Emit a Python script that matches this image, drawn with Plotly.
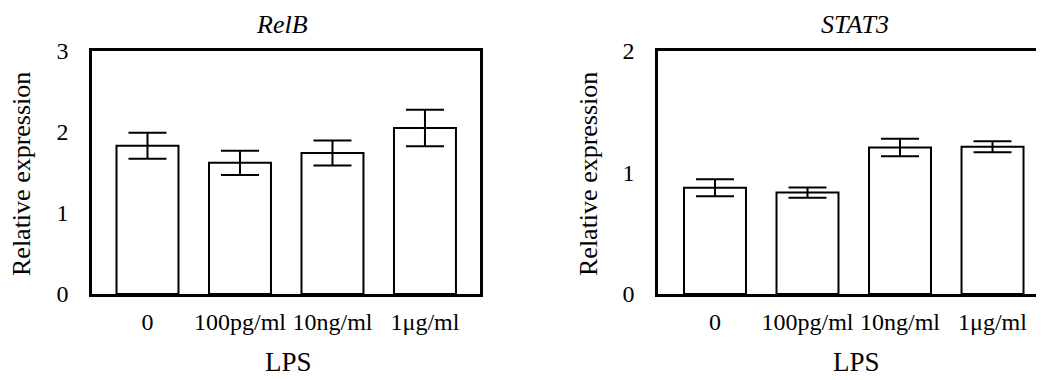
import plotly.graph_objects as go

categories = ["0", "100pg/ml", "10ng/ml", "1μg/ml"]
relb_values = [1.83, 1.62, 1.74, 2.05]
relb_errors = [0.16, 0.15, 0.155, 0.225]
stat3_values = [0.875, 0.835, 1.205, 1.212]
stat3_errors = [0.07, 0.042, 0.072, 0.045]
panel_titles = ["RelB", "STAT3"]
y_ticks_relb = [0, 1, 2, 3]
y_ticks_stat3 = [0, 1, 2]
x_title = "LPS"
y_title = "Relative expression"

FONT = "Liberation Serif"
W, H = 1044, 380
OFF = 8  # page body margin offset


def px_x(p):
    return (p - OFF) / W


def px_y(p):
    return (H - (p - OFF)) / H


def bar(vals, errs, xa, ya):
    return go.Bar(
        x=list(range(len(categories))), y=vals, xaxis=xa, yaxis=ya,
        width=0.67,
        marker=dict(color="white", line=dict(color="black", width=2)),
        error_y=dict(type="data", array=errs, visible=True, color="black",
                     thickness=2, width=19),
        showlegend=False, hoverinfo="skip",
    )


fig = go.Figure()
fig.add_trace(bar(relb_values, relb_errors, "x", "y"))
fig.add_trace(bar(stat3_values, stat3_errors, "x2", "y2"))

ydom = [px_y(294), px_y(51)]
axis_common = dict(showgrid=False, zeroline=False, showline=True,
                   linecolor="black", linewidth=2.6, ticks="", automargin=False,
                   tickfont=dict(family=FONT, size=24, color="black"))

fig.update_layout(
    template="simple_white",
    width=W, height=H,
    margin=dict(l=0, r=0, t=0, b=0, autoexpand=False),
    paper_bgcolor="white", plot_bgcolor="white",
    font=dict(family=FONT, color="black"),
    xaxis=dict(domain=[px_x(92), px_x(480)], range=[-0.6, 3.595],
               tickvals=list(range(len(categories))), ticktext=categories,
               mirror=True, ticklabelstandoff=4, anchor="y", **axis_common),
    yaxis=dict(domain=ydom, range=[0, 3], tickvals=y_ticks_relb,
               mirror=True, ticklabelstandoff=16, anchor="x", **axis_common),
    xaxis2=dict(domain=[px_x(658), 1.0], range=[-0.616, 3.643],
                tickvals=list(range(len(categories))), ticktext=categories,
                mirror=True, ticklabelstandoff=4, anchor="y2", **axis_common),
    yaxis2=dict(domain=ydom, range=[0, 2], tickvals=y_ticks_stat3,
                mirror=False, ticklabelstandoff=16, anchor="x2", **axis_common),
)


def ann(text, x, y, size, angle=0, italic=False):
    fig.add_annotation(
        text=f"<i>{text}</i>" if italic else text,
        x=px_x(x), y=px_y(y), xref="paper", yref="paper",
        xanchor="center", yanchor="middle",
        showarrow=False, textangle=angle,
        font=dict(family=FONT, size=size, color="black"),
    )


ann(panel_titles[0], 282, 24, 26, italic=True)
ann(panel_titles[1], 855, 24, 26, italic=True)
ann(y_title, 21, 174, 26, angle=-90)
ann(y_title, 588, 174, 26, angle=-90)
ann(x_title, 288, 362, 27)
ann(x_title, 856, 362, 27)

fig.write_html("out.html")
